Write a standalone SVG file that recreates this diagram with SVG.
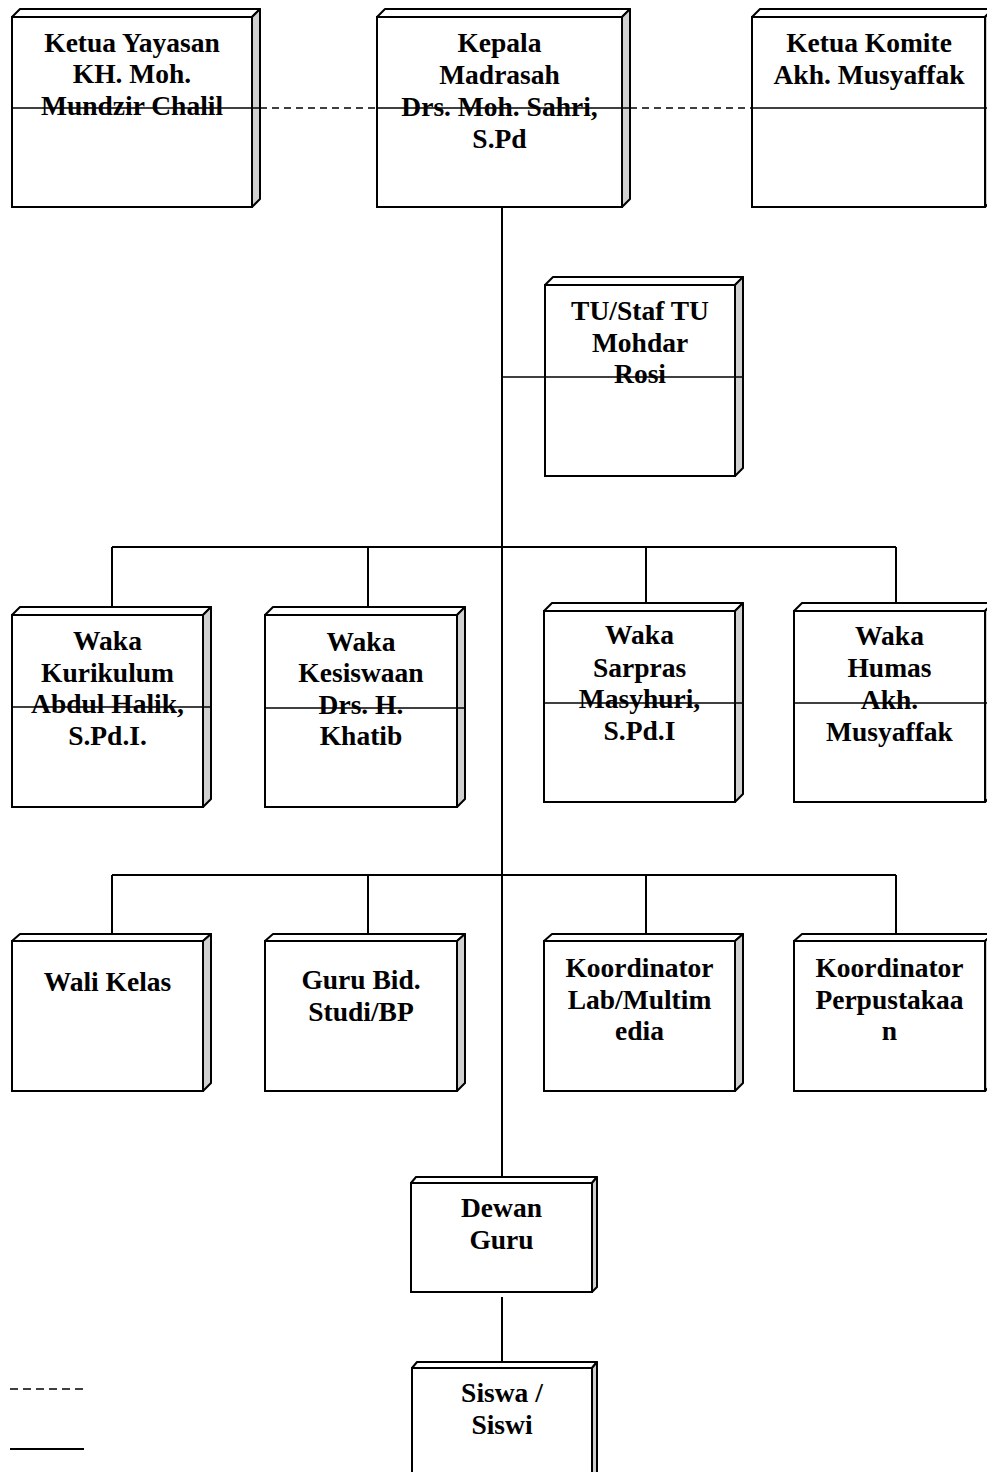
<svg xmlns="http://www.w3.org/2000/svg" width="987" height="1472" viewBox="0 0 987 1472">
<style>
.bg{fill:#ffffff}
.front{fill:#ffffff;stroke:#000;stroke-width:2}
.top{fill:#ffffff;stroke:#000;stroke-width:2;stroke-linejoin:round}
.side{fill:#d0d0d0;stroke:#000;stroke-width:2;stroke-linejoin:round}
.cross{stroke:#000;stroke-width:1.5;fill:none}
.conn{stroke:#000;stroke-width:2;fill:none}
.dash{stroke:#000;stroke-width:1.5;fill:none;stroke-dasharray:7,5}
.lbl{font-family:"Liberation Serif","Times New Roman",serif;font-weight:bold;font-size:27.5px;fill:#000;text-anchor:middle}
</style>
<rect class="bg" x="0" y="0" width="987" height="1472"/>

<g id="connectors">
  <line class="conn" x1="502" y1="207" x2="502" y2="1177"/>
  <line class="conn" x1="112" y1="547" x2="896" y2="547"/>
  <line class="conn" x1="112" y1="547" x2="112" y2="607"/>
  <line class="conn" x1="368" y1="547" x2="368" y2="607"/>
  <line class="conn" x1="646" y1="547" x2="646" y2="603"/>
  <line class="conn" x1="896" y1="547" x2="896" y2="603"/>
  <line class="conn" x1="112" y1="875" x2="896" y2="875"/>
  <line class="conn" x1="112" y1="875" x2="112" y2="934"/>
  <line class="conn" x1="368" y1="875" x2="368" y2="934"/>
  <line class="conn" x1="646" y1="875" x2="646" y2="934"/>
  <line class="conn" x1="896" y1="875" x2="896" y2="934"/>
  <line class="conn" x1="502" y1="1297" x2="502" y2="1362"/>
  <line class="dash" x1="260" y1="108" x2="377" y2="108"/>
  <line class="dash" x1="630" y1="108" x2="752" y2="108"/>
  <line class="cross" x1="502" y1="377" x2="545" y2="377"/>
</g>

<g id="ketua-yayasan">
  <polygon class="top" points="12,17 20,9 260,9 252,17"/>
  <polygon class="side" points="252,17 260,9 260,199 252,207"/>
  <rect class="front" x="12" y="17" width="240" height="190"/>
  <line class="cross" x1="12" y1="108" x2="260" y2="108"/>
  <text class="lbl" x="132" y="52">Ketua Yayasan</text>
  <text class="lbl" x="132" y="83">KH. Moh.</text>
  <text class="lbl" x="132" y="115">Mundzir Chalil</text>
</g>

<g id="kepala-madrasah">
  <polygon class="top" points="377,17 385,9 630,9 622,17"/>
  <polygon class="side" points="622,17 630,9 630,199 622,207"/>
  <rect class="front" x="377" y="17" width="245" height="190"/>
  <line class="cross" x1="377" y1="108" x2="630" y2="108"/>
  <text class="lbl" x="499.5" y="52">Kepala</text>
  <text class="lbl" x="499.5" y="84">Madrasah</text>
  <text class="lbl" x="499.5" y="116">Drs. Moh. Sahri,</text>
  <text class="lbl" x="499.5" y="148">S.Pd</text>
</g>

<g id="ketua-komite">
  <polygon class="top" points="752,17 760,9 993,9 985,17"/>
  <polygon class="side" points="985,17 993,9 993,199 985,207"/>
  <rect class="front" x="752" y="17" width="233" height="190"/>
  <line class="cross" x1="752" y1="108" x2="993" y2="108"/>
  <text class="lbl" x="869" y="52">Ketua Komite</text>
  <text class="lbl" x="869" y="84">Akh. Musyaffak</text>
</g>

<g id="tu-staf">
  <polygon class="top" points="545,285 553,277 743,277 735,285"/>
  <polygon class="side" points="735,285 743,277 743,468 735,476"/>
  <rect class="front" x="545" y="285" width="190" height="191"/>
  <line class="cross" x1="545" y1="377" x2="743" y2="377"/>
  <text class="lbl" x="640" y="320">TU/Staf TU</text>
  <text class="lbl" x="640" y="352">Mohdar</text>
  <text class="lbl" x="640" y="383">Rosi</text>
</g>

<g id="waka-kurikulum">
  <polygon class="top" points="12,615 20,607 211,607 203,615"/>
  <polygon class="side" points="203,615 211,607 211,799 203,807"/>
  <rect class="front" x="12" y="615" width="191" height="192"/>
  <line class="cross" x1="12" y1="707" x2="211" y2="707"/>
  <text class="lbl" x="107.5" y="650">Waka</text>
  <text class="lbl" x="107.5" y="682">Kurikulum</text>
  <text class="lbl" x="107.5" y="713">Abdul Halik,</text>
  <text class="lbl" x="107.5" y="745">S.Pd.I.</text>
</g>

<g id="waka-kesiswaan">
  <polygon class="top" points="265,615 273,607 465,607 457,615"/>
  <polygon class="side" points="457,615 465,607 465,799 457,807"/>
  <rect class="front" x="265" y="615" width="192" height="192"/>
  <line class="cross" x1="265" y1="708" x2="465" y2="708"/>
  <text class="lbl" x="361" y="651">Waka</text>
  <text class="lbl" x="361" y="682">Kesiswaan</text>
  <text class="lbl" x="361" y="714">Drs. H.</text>
  <text class="lbl" x="361" y="745">Khatib</text>
</g>

<g id="waka-sarpras">
  <polygon class="top" points="544,611 552,603 743,603 735,611"/>
  <polygon class="side" points="735,611 743,603 743,794 735,802"/>
  <rect class="front" x="544" y="611" width="191" height="191"/>
  <line class="cross" x1="544" y1="703" x2="743" y2="703"/>
  <text class="lbl" x="639.5" y="644">Waka</text>
  <text class="lbl" x="639.5" y="677">Sarpras</text>
  <text class="lbl" x="639.5" y="708">Masyhuri,</text>
  <text class="lbl" x="639.5" y="740">S.Pd.I</text>
</g>

<g id="waka-humas">
  <polygon class="top" points="794,611 802,603 993,603 985,611"/>
  <polygon class="side" points="985,611 993,603 993,794 985,802"/>
  <rect class="front" x="794" y="611" width="191" height="191"/>
  <line class="cross" x1="794" y1="703" x2="993" y2="703"/>
  <text class="lbl" x="889.5" y="645">Waka</text>
  <text class="lbl" x="889.5" y="677">Humas</text>
  <text class="lbl" x="889.5" y="709">Akh.</text>
  <text class="lbl" x="889.5" y="741">Musyaffak</text>
</g>

<g id="wali-kelas">
  <polygon class="top" points="12,941 20,934 211,934 203,941"/>
  <polygon class="side" points="203,941 211,934 211,1083 203,1091"/>
  <rect class="front" x="12" y="941" width="191" height="150"/>
  <text class="lbl" x="107.5" y="991">Wali Kelas</text>
</g>

<g id="guru-bid-studi">
  <polygon class="top" points="265,941 273,934 465,934 457,941"/>
  <polygon class="side" points="457,941 465,934 465,1083 457,1091"/>
  <rect class="front" x="265" y="941" width="192" height="150"/>
  <text class="lbl" x="361" y="989">Guru Bid.</text>
  <text class="lbl" x="361" y="1021">Studi/BP</text>
</g>

<g id="koordinator-lab">
  <polygon class="top" points="544,941 552,934 743,934 735,941"/>
  <polygon class="side" points="735,941 743,934 743,1083 735,1091"/>
  <rect class="front" x="544" y="941" width="191" height="150"/>
  <text class="lbl" x="639.5" y="977">Koordinator</text>
  <text class="lbl" x="639.5" y="1009">Lab/Multim</text>
  <text class="lbl" x="639.5" y="1040">edia</text>
</g>

<g id="koordinator-perpustakaan">
  <polygon class="top" points="794,941 802,934 993,934 985,941"/>
  <polygon class="side" points="985,941 993,934 993,1083 985,1091"/>
  <rect class="front" x="794" y="941" width="191" height="150"/>
  <text class="lbl" x="889.5" y="977">Koordinator</text>
  <text class="lbl" x="889.5" y="1009">Perpustakaa</text>
  <text class="lbl" x="889.5" y="1040">n</text>
</g>

<g id="dewan-guru">
  <polygon class="top" points="411,1183 416,1177 597,1177 592,1183"/>
  <polygon class="side" points="592,1183 597,1177 597,1287 592,1292"/>
  <rect class="front" x="411" y="1183" width="181" height="109"/>
  <text class="lbl" x="501.5" y="1217">Dewan</text>
  <text class="lbl" x="501.5" y="1249">Guru</text>
</g>

<g id="siswa">
  <polygon class="top" points="412,1368 417,1362 597,1362 592,1368"/>
  <polygon class="side" points="592,1368 597,1362 597,1480 592,1485"/>
  <rect class="front" x="412" y="1368" width="180" height="120"/>
  <text class="lbl" x="502" y="1402">Siswa /</text>
  <text class="lbl" x="502" y="1434">Siswi</text>
</g>

<g id="legend">
  <line x1="10" y1="1389" x2="84" y2="1389" stroke="#000" stroke-width="1.5" stroke-dasharray="8,5"/>
  <line x1="10" y1="1449" x2="84" y2="1449" stroke="#000" stroke-width="2"/>
</g>
</svg>
